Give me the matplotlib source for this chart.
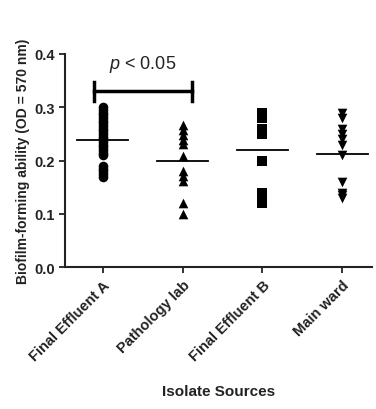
import matplotlib
matplotlib.use('Agg')
import matplotlib.pyplot as plt
import numpy as np

plt.rcParams['font.family'] = ['Liberation Sans', 'DejaVu Sans']
plt.rcParams['mathtext.fontset'] = 'custom'
plt.rcParams['mathtext.it'] = 'Liberation Sans:italic'
plt.rcParams['mathtext.rm'] = 'Liberation Sans'

# data
sources = ['Final Effluent A', 'Pathology lab', 'Final Effluent B', 'Main ward']
effluent_a = [0.300, 0.295, 0.290, 0.285, 0.280, 0.275, 0.270, 0.265, 0.260,
              0.255, 0.250, 0.245, 0.240, 0.235, 0.230, 0.225, 0.220, 0.215,
              0.210, 0.190, 0.185, 0.180, 0.175, 0.170]
pathology = [0.267, 0.257, 0.248, 0.238, 0.231, 0.208, 0.180, 0.171, 0.162,
             0.120, 0.100]
effluent_b = [0.290, 0.280, 0.260, 0.250, 0.200, 0.140, 0.120]
main_ward = [0.290, 0.280, 0.260, 0.250, 0.240, 0.230, 0.210, 0.160, 0.140,
             0.135, 0.130]
groups = [effluent_a, pathology, effluent_b, main_ward]
markers = ['o', '^', 's', 'v']

fig = plt.figure(figsize=(3.76, 4.10), dpi=100)
ax = fig.add_axes([0.173, 0.346, 0.816, 0.52])

for i, vals in enumerate(groups):
    ax.scatter(np.full(len(vals), i), vals, marker=markers[i], s=48,
               color='black', linewidths=0, zorder=3)
    m = np.mean(vals)
    ax.plot([i - 0.32, i + 0.32], [m, m], color='black', lw=1.3, zorder=4)

# significance bracket
ax.plot([-0.11, 1.12], [0.33, 0.33], color='black', lw=2.5, clip_on=False)
ax.plot([-0.11, -0.11], [0.312, 0.348], color='black', lw=2.5, clip_on=False)
ax.plot([1.12, 1.12], [0.312, 0.348], color='black', lw=2.5, clip_on=False)
ax.text(0.5, 0.383, r'$\it{p}$ < 0.05', ha='center', va='center', fontsize=13,
        color='#222222')

ax.set_xlim(-0.47, 3.37)
ax.set_ylim(0, 0.4)
ax.set_yticks([0.0, 0.1, 0.2, 0.3, 0.4])
ax.set_yticklabels(['0.0', '0.1', '0.2', '0.3', '0.4'], fontweight='bold')
ax.set_xticks(range(4))
ax.set_xticklabels(sources, rotation=45, ha='right', rotation_mode='anchor',
                   fontweight='bold')
ax.tick_params(labelsize=10.5, width=1.3, length=4, color='#222222',
               labelcolor='#222222')
for sp in ['top', 'right']:
    ax.spines[sp].set_visible(False)
for sp in ['left', 'bottom']:
    ax.spines[sp].set_linewidth(1.5)
    ax.spines[sp].set_color('#222222')

ax.set_ylabel('Biofilm-forming ability (OD = 570 nm)', fontsize=10,
              fontweight='bold', labelpad=3, color='#222222')
ax.set_xlabel('Isolate Sources', fontsize=11, fontweight='bold', labelpad=15,
              color='#222222')

fig.savefig('out.png', dpi=100)
